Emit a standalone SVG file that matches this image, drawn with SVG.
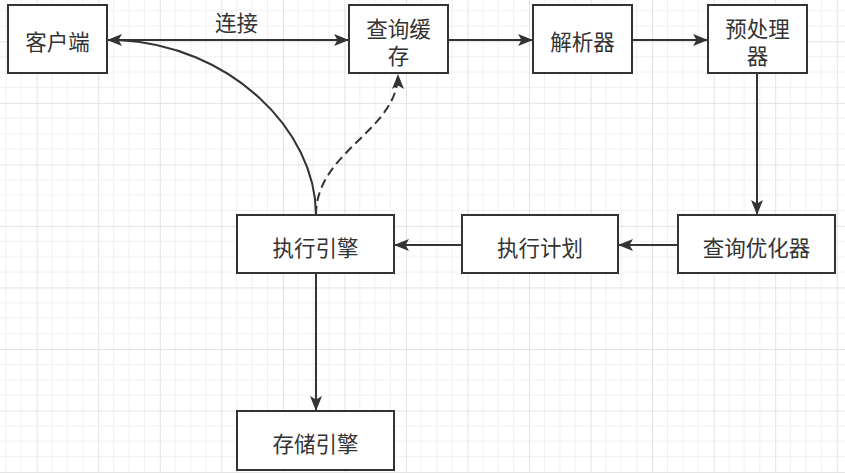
<svg xmlns="http://www.w3.org/2000/svg" width="845" height="473" viewBox="0 0 845 473">
<style>
.box{fill:#ffffff;stroke:#333333;stroke-width:2}
.lbl{font-family:"Noto Sans CJK SC","Noto Sans",sans-serif;font-size:21.5px;fill:#333333;text-anchor:middle;dominant-baseline:central}
.edge{fill:none;stroke:#333333;stroke-width:2}
.dash{stroke-dasharray:9 5}
</style>
<defs>
<pattern id="grid" x="36.7" y="41.3" width="61.54" height="61.54" patternUnits="userSpaceOnUse">
<path d="M15.385 0V61.54M30.77 0V61.54M46.155 0V61.54M0 15.385H61.54M0 30.77H61.54M0 46.155H61.54" stroke="#f0f0f0" stroke-width="1" fill="none"/>
<path d="M0.5 0V61.54M0 0.5H61.54" stroke="#e2e2e2" stroke-width="1" fill="none"/>
</pattern>
<marker id="arr" markerUnits="userSpaceOnUse" markerWidth="17" markerHeight="13" refX="15" refY="6" orient="auto-start-reverse">
<path d="M0,0 L15,6 L0,12 L3.5,6 Z" fill="#333333"/>
</marker>
</defs>
<rect width="845" height="473" fill="#ffffff"/>
<rect width="845" height="473" fill="url(#grid)"/>

<g id="connectors">
<path class="edge" d="M107,40 H349" marker-start="url(#arr)" marker-end="url(#arr)"/>
<path class="edge" d="M448,40 H533" marker-end="url(#arr)"/>
<path class="edge" d="M632,40 H708" marker-end="url(#arr)"/>
<path class="edge" d="M757,73 V215" marker-end="url(#arr)"/>
<path class="edge" d="M678,245 H618" marker-end="url(#arr)"/>
<path class="edge" d="M462,245 H394" marker-end="url(#arr)"/>
<path class="edge" d="M316,273 V411" marker-end="url(#arr)"/>
<path class="edge" d="M316,215 C316,130 230,45 118,40"/>
<path class="edge dash" d="M316,215 C316,151 398,131 398,74" marker-end="url(#arr)"/>
<text class="lbl" x="236.5" y="21">连接</text>
</g>

<g id="client"><rect class="box" x="8" y="5" width="99" height="68"/><text class="lbl" x="57.5" y="40">客户端</text></g>
<g id="query-cache"><rect class="box" x="349" y="5" width="99" height="68"/><text class="lbl" x="398.5" y="27.5">查询缓<tspan x="398.5" dy="26.5">存</tspan></text></g>
<g id="parser"><rect class="box" x="533" y="5" width="99" height="68"/><text class="lbl" x="582.5" y="40.5">解析器</text></g>
<g id="preprocessor"><rect class="box" x="708" y="5" width="99" height="68"/><text class="lbl" x="757.5" y="27.5">预处理<tspan x="757.5" dy="26.5">器</tspan></text></g>
<g id="executor"><rect class="box" x="237" y="215" width="157" height="58"/><text class="lbl" x="315.5" y="246">执行引擎</text></g>
<g id="exec-plan"><rect class="box" x="462" y="215" width="156" height="58"/><text class="lbl" x="540" y="246">执行计划</text></g>
<g id="optimizer"><rect class="box" x="678" y="215" width="157" height="58"/><text class="lbl" x="756.5" y="246">查询优化器</text></g>
<g id="storage"><rect class="box" x="237" y="411" width="157" height="59"/><text class="lbl" x="315.5" y="442">存储引擎</text></g>
</svg>
